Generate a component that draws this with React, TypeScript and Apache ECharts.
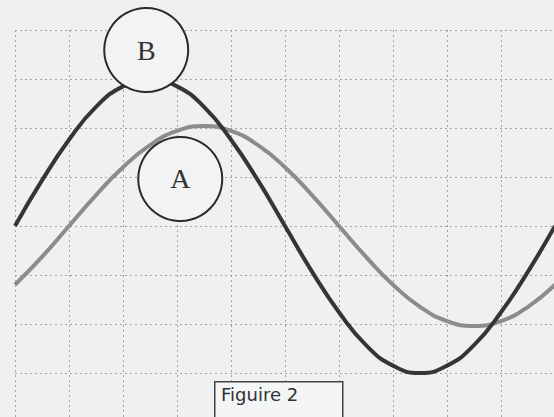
import React, { useEffect, useRef } from "react";
import * as echarts from "echarts";

// Horizontal positions, in screen divisions
const xDivs = [0, 0.5, 1, 1.5, 2, 2.5, 3, 3.5, 4, 4.5, 5, 5.5, 6, 6.5, 7, 7.5, 8, 8.5, 9, 9.5, 10];
// Trace B (dark, larger amplitude), in vertical divisions
const traceB = [0, 0.93, 1.76, 2.43, 2.85, 3.0, 2.85, 2.43, 1.76, 0.93, 0, -0.93, -1.76, -2.43, -2.85, -3.0, -2.85, -2.43, -1.76, -0.93, 0];
// Trace A (gray, smaller amplitude, lagging)
const traceA = [-1.2, -0.63, 0, 0.63, 1.2, 1.65, 1.94, 2.04, 1.94, 1.65, 1.2, 0.63, 0, -0.63, -1.2, -1.65, -1.94, -2.04, -1.94, -1.65, -1.2];
// Circled labels: [x div, y div, label]
const labelNames = ["B", "A"];
const labelX = [2.43, 3.06];
const labelY = [3.59, 0.96];
const captionText = "Figuire 2";

export default function App() {
  const ref = useRef<HTMLDivElement>(null);
  useEffect(() => {
    if (!ref.current) return;
    const chart = echarts.init(ref.current, null, { renderer: "svg" });
    const gridStyle = { color: "#a2a4a6", width: 1, type: [2, 3] as any };
    chart.setOption({
      animation: false,
      backgroundColor: "#eef0f2",
      grid: { left: 15, top: 30, width: 540, height: 392 },
      xAxis: {
        type: "value",
        min: 0,
        max: 10,
        interval: 1,
        axisLine: { show: false },
        axisTick: { show: false },
        axisLabel: { show: false },
        splitLine: { show: true, lineStyle: gridStyle },
      },
      yAxis: {
        type: "value",
        min: -4,
        max: 4,
        interval: 1,
        axisLine: { show: false },
        axisTick: { show: false },
        axisLabel: { show: false },
        splitLine: { show: true, lineStyle: gridStyle },
      },
      series: [
        {
          name: "A",
          type: "line",
          smooth: true,
          showSymbol: false,
          z: 2,
          lineStyle: { color: "#8c8c8c", width: 4 },
          data: xDivs.map((x, i) => [x, traceA[i]]),
        },
        {
          name: "B",
          type: "line",
          smooth: true,
          showSymbol: false,
          z: 3,
          lineStyle: { color: "#353535", width: 4 },
          data: xDivs.map((x, i) => [x, traceB[i]]),
        },
        {
          name: "labels",
          type: "scatter",
          z: 5,
          symbol: "circle",
          symbolSize: 84,
          itemStyle: { color: "#f2f3f5", borderColor: "#2a2a2a", borderWidth: 2, opacity: 1 },
          emphasis: { disabled: true },
          label: {
            show: true,
            position: "inside",
            formatter: (p: any) => p.name,
            fontFamily: "Liberation Serif",
            fontSize: 28,
            color: "#333",
          },
          data: labelNames.map((n, i) => ({ name: n, value: [labelX[i], labelY[i]] })),
        },
      ],
      graphic: [
        {
          type: "rect",
          left: 214,
          top: 381,
          shape: { width: 128, height: 60 },
          style: { fill: "#f4f5f6", stroke: "#444", lineWidth: 1.5 },
          z: 10,
        },
        {
          type: "text",
          left: 221,
          top: 385,
          style: { text: captionText, font: "18px 'DejaVu Sans'", fill: "#333" },
          z: 11,
        },
      ],
    });
    return () => chart.dispose();
  }, []);
  return (
    <div style={{ position: "fixed", left: 0, top: 0, width: 554, height: 417, overflow: "hidden" }}>
      <div ref={ref} style={{ width: 560, height: 440 }} />
    </div>
  );
}
